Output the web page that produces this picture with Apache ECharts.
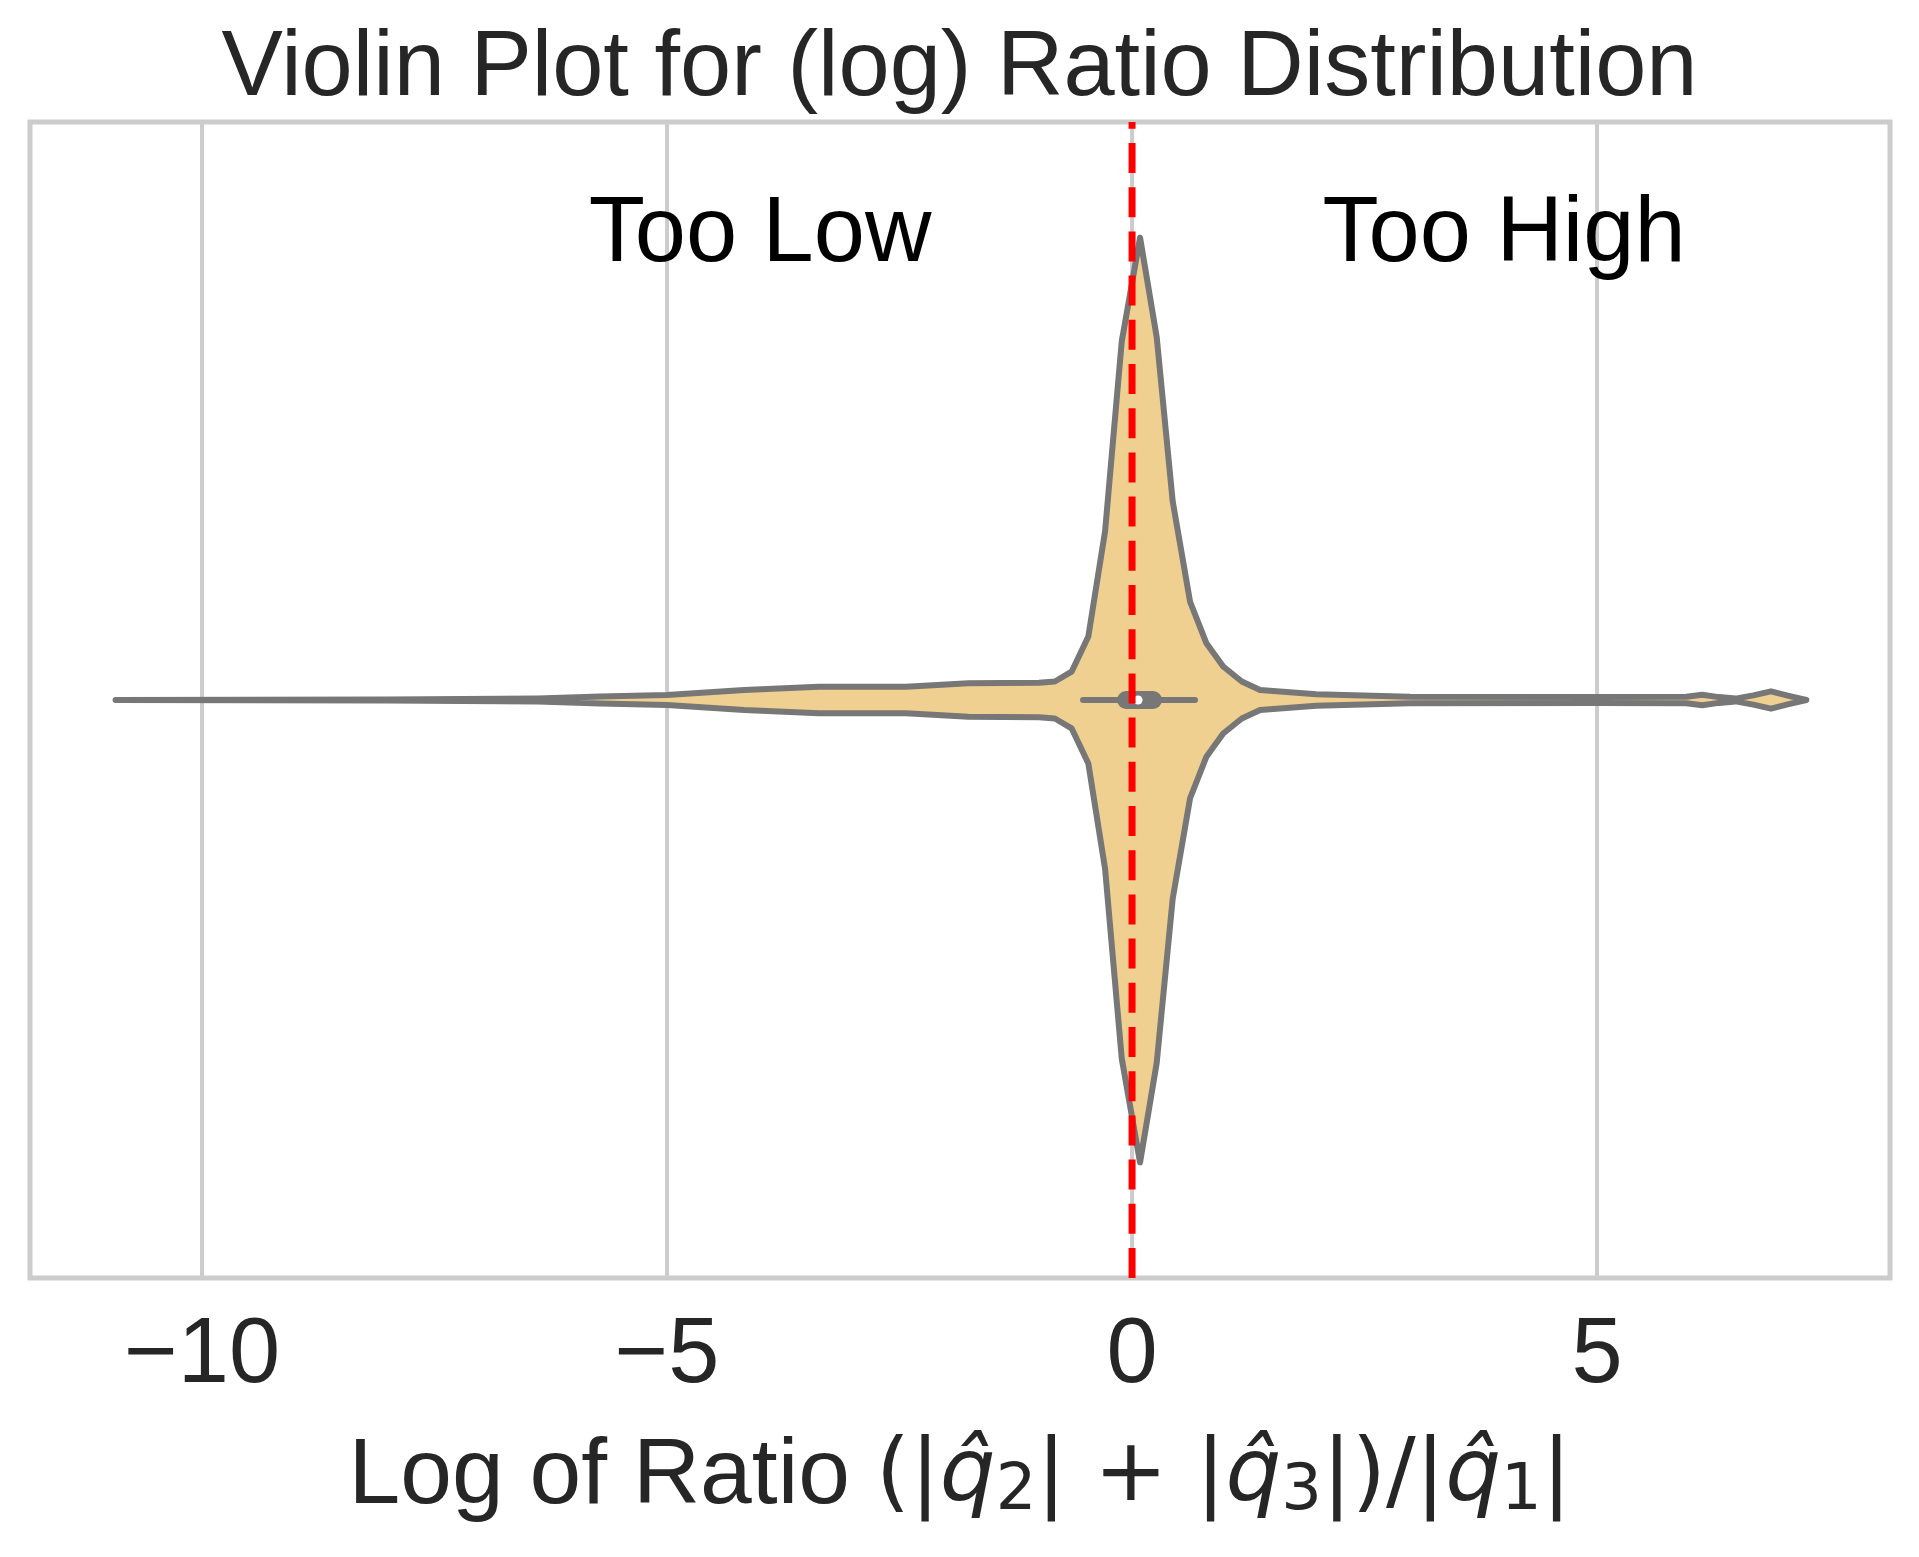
<!DOCTYPE html>
<html>
<head>
<meta charset="utf-8">
<title>Violin Plot for (log) Ratio Distribution</title>
<script src="https://cdn.jsdelivr.net/npm/echarts@6/dist/echarts.min.js"></script>
<style>
    html, body { margin: 0; padding: 0; background: #ffffff; }
    #main-chart { width: 1919px; height: 1557px; }
</style>
</head>
<body>
<div id="main-chart"></div>
<script>
// violin outline: position on the x axis and half width (in category units)
var violinX = [-10.93, -8.0, -6.39, -5.72, -5.0, -4.17, -3.37, -2.43, -1.76, -1.0, -0.83, -0.65, -0.47, -0.29, -0.111,
    0.086, 0.265, 0.437, 0.624, 0.80, 0.98, 1.18, 1.376, 1.98, 2.99, 5.0, 5.96, 6.13, 6.31, 6.49, 6.68, 6.87, 7.05, 7.25];
var violinHalf = [0, 0.0004, 0.0014, 0.003, 0.0043, 0.0087, 0.0115, 0.0115, 0.0144, 0.015, 0.016, 0.0245, 0.055, 0.146, 0.31,
    0.400, 0.314, 0.172, 0.085, 0.049, 0.029, 0.016, 0.0087, 0.0049, 0.0029, 0.0026, 0.0029, 0.0045, 0.0025, 0.0012, 0.004, 0.0075, 0.0038, 0];

// inner box: whisker ends, quartiles, median
var whisker = [-0.527, 0.677];
var quartiles = [-0.065, 0.226];
var median = 0.065;

// reference line and notes
var refLineX = 0;
var noteText = ['Too Low', 'Too High'];
var noteX = [-4, 4];
var noteY = [0.4016, 0.4016];

// x axis
var tickValues = [-10, -5, 0, 5];
var xMin = -11.85;
var xMax = 8.15;

var fontMain = 'Liberation Sans, Arial, sans-serif';
var fontMath = 'DejaVu Sans, sans-serif';

var myChart = echarts.init(document.getElementById('main-chart'));

var option = {
    animation: false,
    backgroundColor: '#ffffff',
    title: {
        text: 'Violin Plot for (log) Ratio Distribution',
        left: 'center',
        top: 24,
        padding: 0,
        textStyle: {
            fontFamily: fontMain,
            fontSize: 92,
            fontWeight: 'normal',
            color: '#262626',
            lineHeight: 92
        }
    },
    grid: {
        left: 30,
        right: 29,
        top: 122,
        bottom: 279,
        show: true,
        borderColor: '#cccccc',
        borderWidth: 5,
        backgroundColor: '#ffffff'
    },
    xAxis: {
        type: 'value',
        min: xMin,
        max: xMax,
        axisLine: { show: false },
        axisTick: { show: false },
        splitLine: { show: false },
        axisLabel: {
            customValues: tickValues,
            margin: 33,
            fontFamily: fontMain,
            fontSize: 92,
            color: '#262626',
            formatter: function (v) {
                return String(v).replace('-', '\u2212');
            }
        },
        name: '{t|Log of Ratio }{m|(|}{q|q\u0302}{s|2}{m|| + |}{q|q\u0302}{s|3}{m||)/|}{q|q\u0302}{s|1}{m||}',
        nameLocation: 'middle',
        nameGap: 152,
        nameTextStyle: {
            color: '#262626',
            rich: {
                t: { fontFamily: fontMain, fontSize: 93, lineHeight: 94, color: '#262626', verticalAlign: 'middle' },
                m: { fontFamily: fontMath, fontSize: 88, lineHeight: 94, color: '#262626', verticalAlign: 'middle' },
                q: { fontFamily: fontMath, fontStyle: 'italic', fontSize: 88, lineHeight: 94, color: '#262626', verticalAlign: 'middle' },
                s: { fontFamily: fontMath, fontSize: 64, lineHeight: 44, color: '#262626', verticalAlign: 'bottom' }
            }
        }
    },
    yAxis: {
        type: 'value',
        min: -0.5,
        max: 0.5,
        show: false
    },
    series: [
        {
            // vertical grid lines
            type: 'custom',
            z: 1,
            silent: true,
            data: tickValues.map(function (v) { return [v, 0]; }),
            renderItem: function (params, api) {
                var p1 = api.coord([api.value(0), -0.5]);
                var p2 = api.coord([api.value(0), 0.5]);
                return {
                    type: 'line',
                    shape: { x1: p1[0], y1: p1[1], x2: p2[0], y2: p2[1] },
                    style: { stroke: '#cccccc', lineWidth: 4 }
                };
            }
        },
        {
            // violin body
            type: 'custom',
            z: 2,
            silent: true,
            data: [[0, 0]],
            renderItem: function (params, api) {
                var pts = [];
                for (var i = 0; i < violinX.length; i++) {
                    pts.push(api.coord([violinX[i], violinHalf[i]]));
                }
                for (var j = violinX.length - 1; j >= 0; j--) {
                    pts.push(api.coord([violinX[j], -violinHalf[j]]));
                }
                return {
                    type: 'polygon',
                    shape: { points: pts },
                    style: {
                        fill: 'rgb(240,208,145)',
                        stroke: '#777777',
                        lineWidth: 6,
                        lineJoin: 'round'
                    }
                };
            }
        },
        {
            // inner box
            type: 'custom',
            z: 3,
            silent: true,
            data: [[0, 0]],
            renderItem: function (params, api) {
                var w1 = api.coord([whisker[0], 0]);
                var w2 = api.coord([whisker[1], 0]);
                var b1 = api.coord([quartiles[0], 0]);
                var b2 = api.coord([quartiles[1], 0]);
                var m = api.coord([median, 0]);
                return {
                    type: 'group',
                    children: [
                        {
                            type: 'line',
                            shape: { x1: w1[0], y1: w1[1], x2: w2[0], y2: w2[1] },
                            style: { stroke: '#777777', lineWidth: 6, lineCap: 'round' }
                        },
                        {
                            type: 'line',
                            shape: { x1: b1[0], y1: b1[1], x2: b2[0], y2: b2[1] },
                            style: { stroke: '#777777', lineWidth: 18, lineCap: 'round' }
                        },
                        {
                            type: 'circle',
                            shape: { cx: m[0], cy: m[1], r: 4.5 },
                            style: { fill: '#ffffff' }
                        }
                    ]
                };
            }
        },
        {
            // red dashed reference line
            type: 'custom',
            z: 4,
            silent: true,
            data: [[refLineX, 0]],
            renderItem: function (params, api) {
                var p1 = api.coord([api.value(0), -0.5]);
                var p2 = api.coord([api.value(0), 0.5]);
                return {
                    type: 'line',
                    shape: { x1: p1[0], y1: p1[1], x2: p2[0], y2: p2[1] },
                    style: { stroke: '#ff0000', lineWidth: 7, lineDash: [30, 14.2] }
                };
            }
        },
        {
            // notes
            type: 'scatter',
            z: 5,
            silent: true,
            symbolSize: 0,
            itemStyle: { opacity: 1 },
            data: noteText.map(function (t, i) {
                return { name: t, value: [noteX[i], noteY[i]] };
            }),
            label: {
                show: true,
                position: 'inside',
                formatter: function (p) { return p.name; },
                fontFamily: fontMain,
                fontSize: 92,
                color: '#000000',
                opacity: 1,
                textBorderWidth: 0,
                textShadowBlur: 0
            }
        }
    ]
};

myChart.setOption(option);
</script>
</body>
</html>
